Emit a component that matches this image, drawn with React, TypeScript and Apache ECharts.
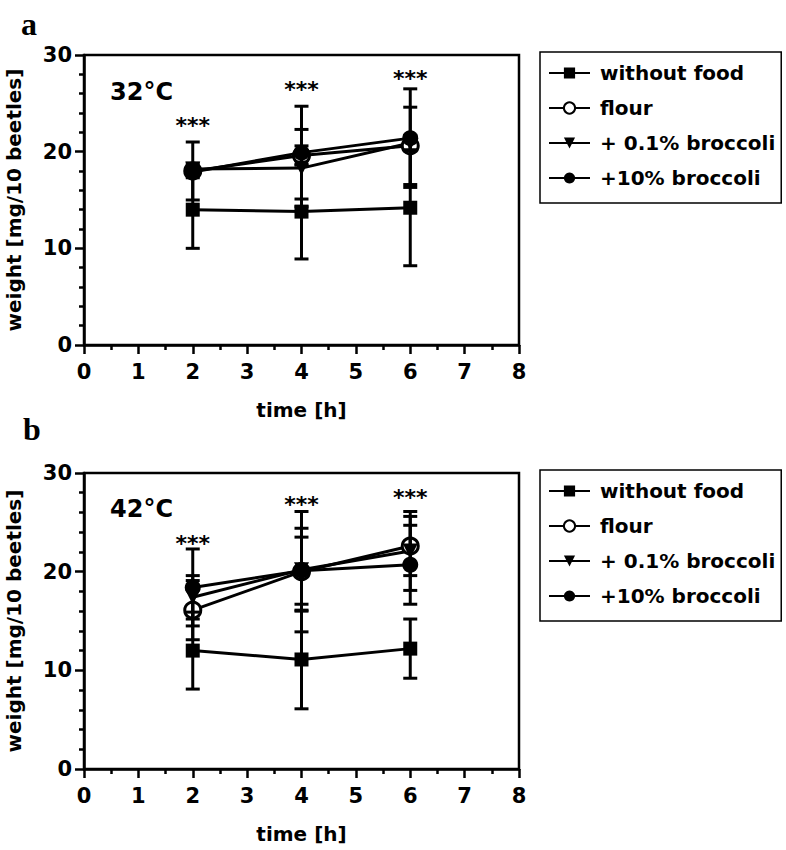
import React, { useEffect, useRef } from "react";
import * as echarts from "echarts";

// ---------- data ----------
const times = [2, 4, 6];
const groupNames = ["without food", "flour", "+ 0.1% broccoli", "+10% broccoli"];
const xTickValues = [0, 1, 2, 3, 4, 5, 6, 7, 8];
const yTickValues = [0, 10, 20, 30];

// panel a: 32°C  (mean, SD)
const a_withoutFood = [14.0, 13.8, 14.2];
const a_withoutFoodSD = [4.0, 4.9, 6.0];
const a_flour = [18.0, 19.6, 20.6];
const a_flourSD = [3.0, 1.0, 4.0];
const a_broc01 = [18.2, 18.3, 20.9];
const a_broc01SD = [0.6, 4.0, 0.8];
const a_broc10 = [17.9, 19.9, 21.4];
const a_broc10SD = [0.6, 4.8, 5.1];
const a_stars = [23.0, 26.7, 27.9];

// panel b: 42°C  (mean, SD)
const b_withoutFood = [12.0, 11.1, 12.2];
const b_withoutFoodSD = [3.9, 5.0, 3.0];
const b_flour = [16.1, 20.0, 22.6];
const b_flourSD = [3.0, 6.1, 3.0];
const b_broc01 = [17.4, 20.2, 22.1];
const b_broc01SD = [2.2, 4.2, 4.0];
const b_broc10 = [18.4, 20.1, 20.7];
const b_broc10SD = [3.9, 3.4, 4.0];
const b_stars = [23.2, 27.1, 27.8];

const FONT = "'DejaVu Sans', sans-serif";
const BLACK = "#000";

const symbolStyles = [
  { symbol: "rect", symbolSize: 14, symbolRotate: 0, itemStyle: { color: BLACK } },
  { symbol: "circle", symbolSize: 16, symbolRotate: 0, itemStyle: { color: "#fff", borderColor: BLACK, borderWidth: 3 } },
  { symbol: "triangle", symbolSize: 15, symbolRotate: 180, itemStyle: { color: BLACK } },
  { symbol: "circle", symbolSize: 16, symbolRotate: 0, itemStyle: { color: BLACK } },
];

function buildPanel(
  idx: number,
  means: number[][],
  sds: number[][],
  stars: number[]
) {
  const series: any[] = [];
  means.forEach((m, g) => {
    const sd = sds[g];
    series.push({
      type: "custom",
      name: `err-${idx}-${g}`,
      xAxisIndex: idx,
      yAxisIndex: idx,
      z: 4,
      clip: false,
      encode: { x: 0, y: [1, 2] },
      data: times.map((t, i) => [t, m[i] - sd[i], m[i] + sd[i]]),
      renderItem: (params: any, api: any) => {
        const x = api.value(0);
        const lo = api.coord([x, api.value(1)]);
        const hi = api.coord([x, api.value(2)]);
        const hw = 7;
        const st = { stroke: BLACK, lineWidth: 3 };
        return {
          type: "group",
          children: [
            { type: "line", shape: { x1: lo[0], y1: lo[1], x2: hi[0], y2: hi[1] }, style: st },
            { type: "line", shape: { x1: lo[0] - hw, y1: lo[1], x2: lo[0] + hw, y2: lo[1] }, style: st },
            { type: "line", shape: { x1: hi[0] - hw, y1: hi[1], x2: hi[0] + hw, y2: hi[1] }, style: st },
          ],
        };
      },
    });
  });
  means.forEach((m, g) => {
    const s = symbolStyles[g];
    series.push({
      type: "line",
      name: groupNames[g],
      xAxisIndex: idx,
      yAxisIndex: idx,
      z: 3,
      symbol: s.symbol,
      symbolSize: s.symbolSize,
      symbolRotate: s.symbolRotate,
      showAllSymbol: true,
      itemStyle: s.itemStyle,
      lineStyle: { color: BLACK, width: 3 },
      emphasis: { disabled: true },
      data: times.map((t, i) => [t, m[i]]),
    });
  });
  series.push({
    type: "custom",
    name: `stars-${idx}`,
    xAxisIndex: idx,
    yAxisIndex: idx,
    z: 5,
    clip: false,
    data: times.map((t, i) => [t, stars[i]]),
    renderItem: (params: any, api: any) => {
      const p = api.coord([api.value(0), api.value(1)]);
      return {
        type: "text",
        x: p[0],
        y: p[1] + 3,
        style: {
          text: "***",
          fill: BLACK,
          font: `bold 22px ${FONT}`,
          align: "center",
          verticalAlign: "middle",
        },
      };
    },
  });
  return series;
}

function axisCommon() {
  return {
    axisLine: { show: true, lineStyle: { color: BLACK, width: 2.5 } },
    axisTick: { show: true, inside: false, length: 9, lineStyle: { color: BLACK, width: 2.5 } },
    splitLine: { show: false },
    minorSplitLine: { show: false },
  };
}

function makeXAxis(gridIndex: number) {
  return {
    type: "value",
    gridIndex,
    min: xTickValues[0],
    max: xTickValues[xTickValues.length - 1],
    interval: 1,
    ...axisCommon(),
    minorTick: { show: true, splitNumber: 2, length: 5, lineStyle: { color: BLACK, width: 2.5 } },
    axisLabel: { color: BLACK, fontSize: 21, fontWeight: "bold", fontFamily: FONT, margin: 16 },
    name: "time [h]",
    nameLocation: "middle",
    nameGap: 55,
    nameTextStyle: { color: BLACK, fontSize: 20, fontWeight: "bold", fontFamily: FONT },
  };
}

function makeYAxis(gridIndex: number) {
  return {
    type: "value",
    gridIndex,
    min: yTickValues[0],
    max: yTickValues[yTickValues.length - 1],
    interval: 10,
    ...axisCommon(),
    minorTick: { show: true, splitNumber: 5, length: 5, lineStyle: { color: BLACK, width: 2.5 } },
    axisLabel: { color: BLACK, fontSize: 21, fontWeight: "bold", fontFamily: FONT, margin: 12 },
    name: "weight [mg/10 beetles]",
    nameLocation: "middle",
    nameGap: 60,
    nameRotate: 90,
    nameTextStyle: { color: BLACK, fontSize: 20, fontWeight: "bold", fontFamily: FONT },
  };
}

function makeLegend(top: number) {
  return {
    orient: "vertical",
    left: 540,
    top,
    data: groupNames,
    selectedMode: false,
    itemWidth: 41,
    itemHeight: 14,
    itemGap: 13,
    padding: [10, 6, 14, 8],
    borderColor: BLACK,
    borderWidth: 1.5,
    borderRadius: 0,
    backgroundColor: "#fff",
    inactiveColor: BLACK,
    textStyle: {
      color: BLACK,
      fontSize: 20,
      fontWeight: "bold",
      fontFamily: FONT,
      lineHeight: 22,
      padding: [0, 0, 0, 5],
    },
  };
}

export default function App() {
  const ref = useRef<HTMLDivElement>(null);
  useEffect(() => {
    if (!ref.current) return;
    const chart = echarts.init(ref.current, undefined, { renderer: "svg" });
    const gridCommon = {
      show: true,
      borderColor: BLACK,
      borderWidth: 2.5,
      backgroundColor: "transparent",
      containLabel: false,
      outerBoundsMode: "none",
    };
    const option: any = {
      animation: false,
      backgroundColor: "#fff",
      grid: [
        { ...gridCommon, left: 84, top: 55, width: 435, height: 290 },
        { ...gridCommon, left: 84, top: 473, width: 435, height: 296 },
      ],
      xAxis: [makeXAxis(0), makeXAxis(1)],
      yAxis: [makeYAxis(0), makeYAxis(1)],
      legend: [makeLegend(52), makeLegend(470)],
      series: [
        ...buildPanel(
          0,
          [a_withoutFood, a_flour, a_broc01, a_broc10],
          [a_withoutFoodSD, a_flourSD, a_broc01SD, a_broc10SD],
          a_stars
        ),
        ...buildPanel(
          1,
          [b_withoutFood, b_flour, b_broc01, b_broc10],
          [b_withoutFoodSD, b_flourSD, b_broc01SD, b_broc10SD],
          b_stars
        ),
      ],
      graphic: [
        { type: "text", left: 21, top: 8, style: { text: "a", fill: BLACK, font: "bold 32px 'Liberation Serif', serif" } },
        { type: "text", left: 23, top: 413, style: { text: "b", fill: BLACK, font: "bold 32px 'Liberation Serif', serif" } },
        { type: "text", left: 110, top: 80, style: { text: "32°C", fill: BLACK, font: `bold 24px ${FONT}` } },
        { type: "text", left: 110, top: 497, style: { text: "42°C", fill: BLACK, font: `bold 24px ${FONT}` } },
      ],
    };
    chart.setOption(option);
    return () => chart.dispose();
  }, []);
  return (
    <div
      ref={ref}
      style={{ position: "absolute", left: 0, top: 0, width: 786, height: 850, background: "#fff" }}
    />
  );
}
